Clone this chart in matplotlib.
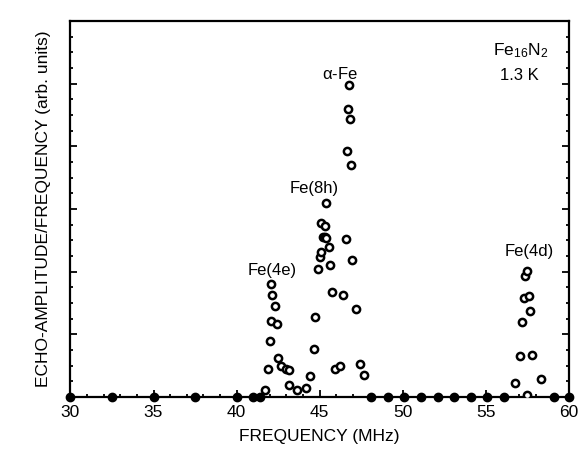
import numpy as np
import matplotlib
matplotlib.use("Agg")
import matplotlib.pyplot as plt
from matplotlib.ticker import MultipleLocator

plt.rcParams['font.family'] = ['Liberation Sans', 'DejaVu Sans']
plt.rcParams['mathtext.fontset'] = 'custom'
plt.rcParams['mathtext.rm'] = 'Liberation Sans'
plt.rcParams['mathtext.default'] = 'regular'

# Open circles: spin-echo points (MHz, arb. units)
freq_open = [41.70, 41.90, 42.00, 42.06, 42.10, 42.16, 42.32, 42.44, 42.50, 42.70,
             43.00, 43.14, 43.16, 43.64, 44.17, 44.41, 44.65, 44.73, 44.93, 45.01,
             45.07, 45.11, 45.22, 45.31, 45.31, 45.37, 45.41, 45.55, 45.65, 45.73,
             45.95, 46.21, 46.39, 46.57, 46.65, 46.71, 46.74, 46.83, 46.86, 46.95,
             47.18, 47.42, 47.70,
             56.79, 57.09, 57.19, 57.29, 57.37, 57.49, 57.49, 57.61, 57.65, 57.79, 58.31]
amp_open = [0.12, 0.44, 0.89, 1.21, 1.80, 1.63, 1.45, 1.16, 0.62, 0.49,
            0.45, 0.43, 0.19, 0.11, 0.15, 0.33, 0.76, 1.27, 2.05, 2.23,
            2.32, 2.78, 2.55, 2.55, 2.73, 3.09, 2.53, 2.40, 2.10, 1.67,
            0.44, 0.49, 1.63, 2.52, 3.93, 4.60, 4.98, 4.44, 3.70, 2.18,
            1.41, 0.53, 0.35,
            0.22, 0.65, 1.20, 1.58, 1.93, 2.01, 0.03, 1.62, 1.37, 0.67, 0.28]

# Filled dots: frequencies with no signal
freq_zero = [30.0, 32.5, 35.0, 37.5, 40.0, 41.0, 41.4, 48.1, 49.1, 50.1,
             51.1, 52.1, 53.1, 54.1, 55.1, 56.1, 59.1, 60.0]
amp_zero = [0.0] * len(freq_zero)

# Site labels
site_labels = [r'$\alpha$-Fe', 'Fe(8h)', 'Fe(4e)', 'Fe(4d)']
site_x = [46.25, 44.7, 42.15, 57.6]
site_y = [5.15, 3.33, 2.02, 2.33]


fig = plt.figure(figsize=(5.87, 4.63), dpi=100, facecolor='w')
ax = fig.add_axes([0.12, 0.1425, 0.849, 0.812])

ax.plot(freq_zero, amp_zero, 'o', color='black', markersize=6, clip_on=False, zorder=3)
ax.plot(freq_open, amp_open, 'o', markerfacecolor='white', markeredgecolor='black',
        markersize=5.2, markeredgewidth=1.8, linestyle='none', zorder=4)

for lab, x, y in zip(site_labels, site_x, site_y):
    ax.text(x, y, lab, ha='center', va='center', fontsize=12)

ax.text(57.1, 5.52, r'Fe$_{16}$N$_2$', ha='center', va='center', fontsize=12.5)
ax.text(57.0, 5.13, '1.3 K', ha='center', va='center', fontsize=12)

ax.set_xlim(30, 60)
ax.set_ylim(0, 6)
ax.xaxis.set_major_locator(MultipleLocator(5))
ax.xaxis.set_minor_locator(MultipleLocator(1))
ax.yaxis.set_major_locator(MultipleLocator(1))
ax.yaxis.set_minor_locator(MultipleLocator(0.25))
ax.tick_params(which='both', direction='in', top=False, right=True, labelleft=False,
               width=1.3)
ax.tick_params(which='major', length=5, labelsize=12.5, pad=6)
ax.tick_params(which='minor', length=2.5)
for s in ax.spines.values():
    s.set_linewidth(1.6)

ax.set_xlabel('FREQUENCY (MHz)', fontsize=12.5, labelpad=6)
ax.set_ylabel('ECHO-AMPLITUDE/FREQUENCY (arb. units)', fontsize=12.5, labelpad=14)

fig.savefig('out.png', dpi=100)
